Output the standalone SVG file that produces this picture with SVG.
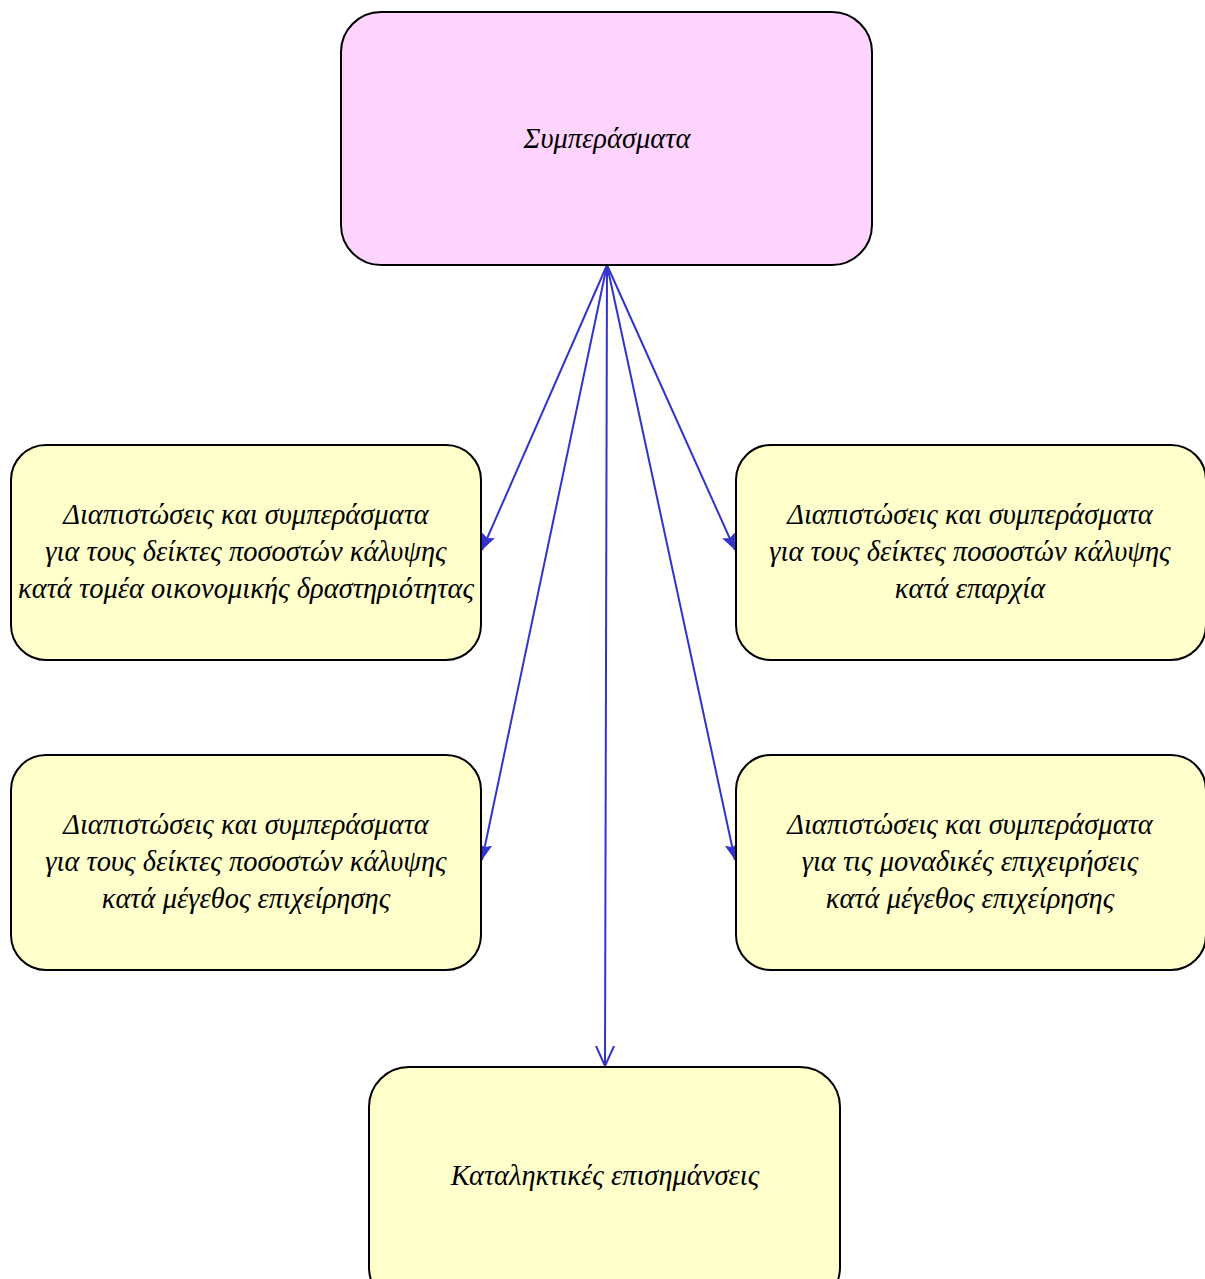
<svg xmlns="http://www.w3.org/2000/svg" width="1205" height="1279" viewBox="0 0 1205 1279">
<defs>
<style>
.box{stroke:#000;stroke-width:2}
.pink{fill:#FFD5FF}
.yel{fill:#FFFFCC}
.t{font-family:"Liberation Serif","DejaVu Serif",serif;font-style:italic;font-size:28.5px;fill:#000;text-anchor:middle}
.c{stroke:#3333CC;stroke-width:2;fill:none}
</style>
<marker id="fa" viewBox="0 0 16 14" refX="16" refY="7" markerWidth="16" markerHeight="14" markerUnits="userSpaceOnUse" orient="auto">
<path d="M0,0 L16,7 L0,14 L3,7 Z" fill="#3333CC"/>
</marker>
<marker id="oa" viewBox="0 0 20 20" refX="20" refY="10" markerWidth="20" markerHeight="20" markerUnits="userSpaceOnUse" orient="auto">
<path d="M0,1 L20,10 L0,19" fill="none" stroke="#3333CC" stroke-width="2"/>
</marker>
</defs>
<rect width="1205" height="1279" fill="#fff"/>
<g id="connectors">
<line class="c" x1="607" y1="265" x2="482" y2="550" marker-end="url(#fa)"/>
<line class="c" x1="607" y1="265" x2="735" y2="550" marker-end="url(#fa)"/>
<line class="c" x1="607" y1="265" x2="482" y2="860" marker-end="url(#fa)"/>
<line class="c" x1="607" y1="265" x2="735" y2="860" marker-end="url(#fa)"/>
<line class="c" x1="607" y1="265" x2="605" y2="1066" marker-end="url(#oa)"/>
</g>
<g id="n0">
<rect class="box pink" x="341" y="12" width="531" height="253" rx="40" ry="40"/>
<text class="t" x="607" y="148">Συμπεράσματα</text>
</g>
<g id="n1">
<rect class="box yel" x="11" y="445" width="470" height="215" rx="35" ry="35"/>
<text class="t" x="246" y="524">Διαπιστώσεις και συμπεράσματα</text>
<text class="t" x="246" y="561">για τους δείκτες ποσοστών κάλυψης</text>
<text class="t" x="246" y="598">κατά τομέα οικονομικής δραστηριότητας</text>
</g>
<g id="n2">
<rect class="box yel" x="736" y="445" width="470" height="215" rx="35" ry="35"/>
<text class="t" x="970" y="524">Διαπιστώσεις και συμπεράσματα</text>
<text class="t" x="970" y="561">για τους δείκτες ποσοστών κάλυψης</text>
<text class="t" x="970" y="598">κατά επαρχία</text>
</g>
<g id="n3">
<rect class="box yel" x="11" y="755" width="470" height="215" rx="35" ry="35"/>
<text class="t" x="246" y="834">Διαπιστώσεις και συμπεράσματα</text>
<text class="t" x="246" y="871">για τους δείκτες ποσοστών κάλυψης</text>
<text class="t" x="246" y="908">κατά μέγεθος επιχείρησης</text>
</g>
<g id="n4">
<rect class="box yel" x="736" y="755" width="470" height="215" rx="35" ry="35"/>
<text class="t" x="970" y="834">Διαπιστώσεις και συμπεράσματα</text>
<text class="t" x="970" y="871">για τις μοναδικές επιχειρήσεις</text>
<text class="t" x="970" y="908">κατά μέγεθος επιχείρησης</text>
</g>
<g id="n5">
<rect class="box yel" x="369" y="1067" width="471" height="240" rx="40" ry="40"/>
<text class="t" x="605" y="1185">Καταληκτικές επισημάνσεις</text>
</g>
</svg>
